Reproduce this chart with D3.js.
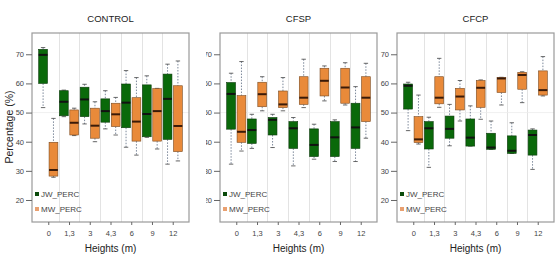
<!DOCTYPE html>
<html><head><meta charset="utf-8">
<script src="https://cdn.jsdelivr.net/npm/d3@7"></script>
<style>body{margin:0;background:#fff}svg{display:block}text{font-family:"Liberation Sans",Arial,sans-serif}</style>
</head><body><svg id="c" width="557" height="265"></svg>
<script>
// Categories and tick labels
const heights = ["0", "1,3", "3", "4,3", "6", "9", "12"];
const yTicks = [20, 30, 40, 50, 60, 70];
const panelTitles = ["CONTROL", "CFSP", "CFCP"];
const seriesNames = ["JW_PERC", "MW_PERC"];
// Box stats per height: [lowWhisker, Q1, median, Q3, highWhisker]
const controlJW = [[51.7,60,69.8,71.7,72.3],[48.6,48.9,53.7,57.5,57.7],[46.1,48.6,54.5,58.7,59.7],[44.4,46.7,50.5,54.7,57.5],[38.1,44.8,53.4,59.8,64.4],[41.5,41.7,49.5,59.5,62.6],[32.3,40.8,54.7,63.2,66.6]];
const controlMW = [[27.8,28.2,30.3,39.8,48],[42.1,42.3,46.5,50.9,51.5],[40,41.2,45.5,51.5,53.7],[42.3,45.2,49.4,53.2,55.2],[35.4,40.2,46.9,55.1,62],[37.5,40.2,50.5,58.2,58.3],[33.4,36.6,45.4,59.2,67.7]];
const cfspJW = [[32.3,44.3,56.4,60.3,63.5],[37.7,39.4,44.0,47.8,49.4],[38.0,42.3,47.5,48.3,49.4],[31.7,37.7,44.6,46.9,48.3],[34.0,34.9,38.9,44.4,46.0],[33.2,34.9,41.5,46.9,47.5],[33.2,37.7,44.9,53.2,58.9]];
const cfspMW = [[36.8,39.8,43.4,55.8,67.5],[50.6,52.0,56.3,60.4,62.3],[50.6,51.7,52.8,57.4,62.0],[51.7,52.8,55.1,62.3,68.3],[54.0,55.7,60.9,65.2,66.0],[52.6,53.2,58.6,65.2,67.1],[41.2,46.9,55.1,62.3,66.9]];
const cfcpJW = [[43.8,51.2,59.2,59.8,60.4],[31.2,37.5,44.6,46.9,48.4],[38.6,41.2,44.4,48.8,52.8],[38.5,38.5,41.4,47.8,52.3],[37.4,37.4,38.0,42.9,47.1],[36.0,36.0,36.9,42.0,46.5],[30.5,35.4,42.3,44.0,44.4]];
const cfcpMW = [[39.2,39.7,40.8,48.6,56.0],[51.8,53.0,55.1,62.3,68.6],[47.1,50.9,55.5,58.3,61.0],[47.7,51.8,58.5,61.0,61.2],[52.6,56.9,61.7,62.0,62.1],[53.4,58.0,62.9,63.8,64.0],[55.7,56.0,57.7,64.3,69.2]];

const panels = [
  {title: panelTitles[0], jw: controlJW, mw: controlMW, left: 32, clipX: 0},
  {title: panelTitles[1], jw: cfspJW, mw: cfspMW, left: 220, clipX: 206},
  {title: panelTitles[2], jw: cfcpJW, mw: cfcpMW, left: 397, clipX: 380}
];
const colors = ["#0a690a", "#e98a3a"];
const plotTop = 33, plotBottom = 222, pw = 157;
const svg = d3.select("#c");
const defs = svg.append("defs");
const y = d3.scaleLinear().domain([12.45, 77.3]).range([plotBottom, plotTop]);

panels.forEach((p, pi) => {
  const x = d3.scaleLinear().domain([-1.07, 14.07]).range([p.left, p.left + pw]);
  const g = svg.append("g");
  // grid
  d3.range(6).forEach(k => {
    const gx = Math.round(x(2*k + 1.5)) + 0.5;
    g.append("line").attr("x1", gx).attr("x2", gx).attr("y1", plotTop).attr("y2", plotBottom)
      .attr("stroke", "#dcdcdc").attr("stroke-width", 0.8);
  });
  g.append("line").attr("x1", p.left).attr("x2", p.left + pw).attr("y1", y(50)).attr("y2", y(50))
    .attr("stroke", "#ececec").attr("stroke-width", 0.8);
  // boxes
  const bw = 8.8;
  [p.jw, p.mw].forEach((ser, si) => {
    ser.forEach((d, gi) => {
      const cx = x(2*gi + si);
      const [lo, q1, med, q3, hi] = d;
      const wg = g.append("g");
      wg.append("line").attr("x1", cx).attr("x2", cx).attr("y1", y(hi)).attr("y2", y(q3))
        .attr("stroke", "#5a6a80").attr("stroke-width", 0.8).attr("stroke-dasharray", "1.5,1.5");
      wg.append("line").attr("x1", cx).attr("x2", cx).attr("y1", y(q1)).attr("y2", y(lo))
        .attr("stroke", "#5a6a80").attr("stroke-width", 0.8).attr("stroke-dasharray", "1.5,1.5");
      [hi, lo].forEach(v => wg.append("line").attr("x1", cx - 2.2).attr("x2", cx + 2.2)
        .attr("y1", y(v)).attr("y2", y(v)).attr("stroke", "#444").attr("stroke-width", 0.8));
      wg.append("rect").attr("x", cx - bw/2).attr("y", y(q3)).attr("width", bw)
        .attr("height", Math.max(0.8, y(q1) - y(q3))).attr("fill", colors[si])
        .attr("stroke", si ? "#7a4a20" : "#0b3a0b").attr("stroke-width", 0.6);
      wg.append("line").attr("x1", cx - bw/2).attr("x2", cx + bw/2).attr("y1", y(med)).attr("y2", y(med))
        .attr("stroke", si ? "#3a1a08" : "#111").attr("stroke-width", 2);
    });
  });
  // frame
  g.append("rect").attr("x", p.left).attr("y", plotTop).attr("width", pw).attr("height", plotBottom - plotTop)
    .attr("fill", "none").attr("stroke", "#9a9a9a").attr("stroke-width", 1.2);
  // y axis (clipped like the source image)
  const clipId = "clip" + pi;
  defs.append("clipPath").attr("id", clipId).append("rect")
    .attr("x", p.clipX).attr("y", 0).attr("width", p.left - p.clipX + 2).attr("height", 265);
  const yaWrap = g.append("g").attr("clip-path", `url(#${clipId})`);
  const ya = yaWrap.append("g").attr("transform", `translate(${p.left},0)`)
    .call(d3.axisLeft(y).tickValues(yTicks).tickSize(6).tickPadding(2));
  ya.select(".domain").remove();
  ya.selectAll("line").attr("stroke", "#666");
  ya.selectAll("text").attr("font-size", 7.5).attr("fill", "#444").style("font-family", "'Liberation Sans',Arial,sans-serif");
  // x axis
  const xa = g.append("g").attr("transform", `translate(0,${plotBottom})`)
    .call(d3.axisBottom(x).tickValues(heights.map((h, i) => 2*i + 0.5)).tickFormat((d, i) => heights[i])
      .tickSize(3).tickPadding(6));
  xa.select(".domain").remove();
  xa.selectAll("line").attr("stroke", "#666");
  xa.selectAll("text").attr("font-size", 7.5).attr("fill", "#444").style("font-family", "'Liberation Sans',Arial,sans-serif");
  // titles
  g.append("text").attr("x", p.left + pw/2).attr("y", 22).attr("text-anchor", "middle")
    .attr("font-size", 9.5).attr("fill", "#222").text(p.title);
  g.append("text").attr("x", p.left + pw/2).attr("y", 252).attr("text-anchor", "middle")
    .attr("font-size", 10).attr("fill", "#222").text("Heights (m)");
  // legend
  seriesNames.forEach((n, si) => {
    const ly = 194 + si * 15;
    g.append("rect").attr("x", p.left + 3).attr("y", ly - 2).attr("width", 4).attr("height", 4)
      .attr("fill", si ? "#e9a070" : "#0a4a0a");
    g.append("text").attr("x", p.left + 9).attr("y", ly + 2.9).attr("font-size", 8)
      .attr("fill", "#444").text(n);
  });
});
svg.append("text").attr("transform", "translate(13,127) rotate(-90)").attr("text-anchor", "middle")
  .attr("font-size", 10.5).attr("fill", "#222").text("Percentage (%)");
</script></body></html>
